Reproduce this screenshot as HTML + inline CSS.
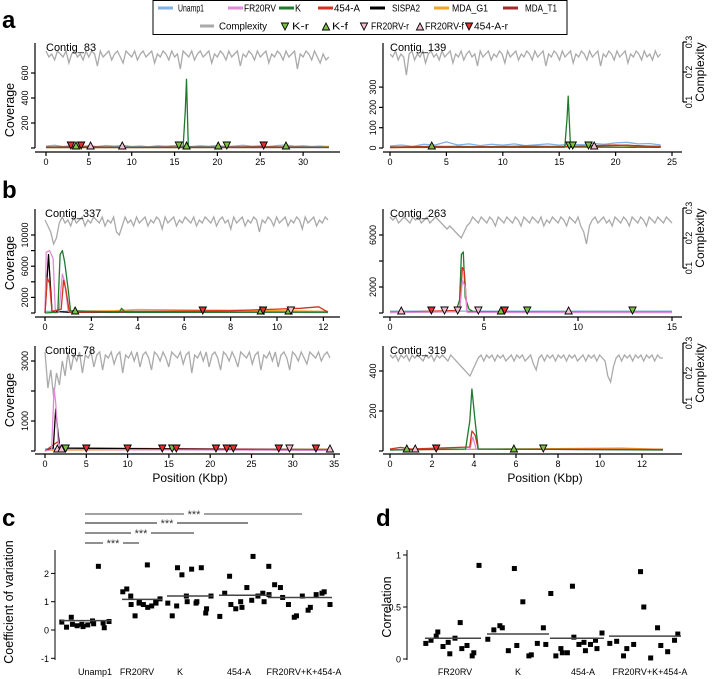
<!DOCTYPE html>
<html><head><meta charset="utf-8"><style>
html,body{margin:0;padding:0;background:#fff;}
svg{display:block;font-family:"Liberation Sans",sans-serif;}
</style></head><body>
<svg id="fig" width="712" height="679" viewBox="0 0 712 679" xmlns="http://www.w3.org/2000/svg"></svg>
<script>
// ---------- data: coverage ----------
const a1Unamp=[[0,15],[1,22],[2,12],[3,20],[4,14],[5,18],[6,12],[7,20],[8,15],[9,22],[10,12],[11,16],[12,10],[13,18],[14,14],[15,20],[16,16],[17,12],[18,18],[19,14],[20,20],[21,12],[22,16],[23,22],[24,14],[25,18],[26,12],[27,20],[28,24],[29,14],[30,18],[31,12],[32,16],[33,10]];
const a1K=[[0,5],[10,5],[16,6],[16.25,300],[16.4,550],[16.6,10],[17,5],[33,5]];
const a1A454=[[0,8],[5,10],[10,6],[15,9],[20,7],[25,10],[30,8],[33,6]];
const a1G1=[[0,3],[32,5],[33,15]];
const a1S2=[[0,4],[33,4]];
const a2Unamp=[[0,10],[1,15],[2,8],[3,18],[4,15],[5,30],[6,15],[7,20],[8,12],[9,18],[10,14],[11,20],[12,12],[13,16],[14,20],[15,14],[16,18],[17,16],[18,22],[19,18],[20,25],[21,28],[22,20],[23,22],[24,15]];
const a2K=[[0,3],[15.5,4],[15.7,150],[15.8,255],[16,5],[24,3]];
const a2A454=[[0,5],[4,8],[8,6],[12,9],[16,7],[18,12],[20,15],[22,10],[24,8]];
const a2T1=[[0,2],[6,8],[12,4],[18,10],[21,14],[24,6]];
const a2G1=[[0,2],[20,5],[24,8]];
const b1FR=[[0,0],[0.05,7800],[0.2,8000],[0.35,7000],[0.45,0],[0.6,100],[0.75,5000],[0.85,4000],[1,200],[12.2,50]];
const b1K=[[0,0],[0.55,100],[0.65,7500],[0.75,8000],[0.85,6500],[1,3000],[1.1,300],[3.2,100],[3.3,600],[3.45,100],[12.2,100]];
const b1A454=[[0,0],[0.1,4500],[0.2,3800],[0.3,200],[0.7,500],[0.8,4200],[0.9,3000],[1.05,100],[4,200],[8,300],[10,500],[11,600],[11.8,800],[12.2,100]];
const b1G1=[[1,200],[3,300],[4,450],[6,400],[8,350],[10,300],[12.2,200]];
const b1S2=[[0,0],[0.15,7500],[0.3,200],[1,100],[12.2,100]];
const b1Unamp=[[0,200],[4,250],[8,200],[12.2,200]];
const b2K=[[0,50],[3.5,100],[3.7,1000],[3.8,4500],[3.9,4700],[4,1200],[4.2,300],[4.5,50],[15,50]];
const b2A454=[[0,50],[3.7,200],[3.85,3500],[3.95,3200],[4.1,100],[15,50]];
const b2FR=[[0,30],[3.7,100],[3.85,2500],[4,2000],[4.1,50],[15,30]];
const b2Unamp=[[0,150],[15,150]];
const b3FR=[[0,0],[0.8,50],[1.1,2100],[1.3,1600],[1.6,300],[2,50],[34.5,20]];
const b3S2=[[0,0],[1,100],[1.3,1400],[1.5,800],[1.8,100],[34.5,20]];
const b3A454=[[0,0],[1.5,300],[2,100],[34.5,40]];
const b3G1=[[0,30],[34.5,60]];
const b3Unamp=[[0,70],[34.5,70]];
const b4K=[[0,5],[3.6,10],[3.8,150],[3.9,310],[4.05,150],[4.2,10],[13,5]];
const b4A454=[[0,10],[0.5,18],[1,10],[3.8,20],[3.9,100],[4.05,80],[4.2,10],[13,8]];
const b4FR=[[0,5],[3.8,10],[3.95,70],[4.1,10],[13,5]];
const b4G1=[[0,5],[6,10],[11,15],[13,8]];
const b4Unamp=[[0,8],[13,8]];
// ---------- data: complexity (evenly sampled along contig) ----------
const cxA1=[.27,.25,.26,.24,.27,.26,.25,.27,.23,.26,.27,.25,.26,.24,.27,.25,.27,.26,.22,.27,.25,.26,.27,.24,.26,.27,.25,.23,.27,.26,.25,.27,.24,.26,.27,.25,.26,.27,.23,.26,.25,.27,.26,.24,.27,.25,.26,.21,.27,.26,.25,.27,.24,.26,.27,.25,.26,.27,.23,.26,.25,.27,.26,.24,.27,.25,.26,.27,.22,.26,.25,.27,.26,.24,.27,.25,.26,.27,.23,.26,.25,.27,.26,.24,.27,.25,.26,.27,.21,.26,.25,.27,.26,.24,.27,.25,.23,.26,.24,.25];
const cxA2=[.26,.25,.27,.24,.26,.25,.19,.26,.27,.24,.26,.25,.27,.23,.26,.27,.25,.26,.24,.27,.25,.26,.27,.23,.26,.25,.27,.24,.26,.27,.25,.26,.22,.27,.25,.26,.27,.24,.26,.25,.27,.26,.23,.27,.25,.26,.27,.24,.26,.25,.27,.26,.24,.27,.25,.26,.27,.22,.26,.25,.27,.26,.24,.27,.25,.26,.27,.23,.26,.25,.27,.26,.24,.27,.25,.26,.27,.22,.26,.25,.27,.26,.24,.27,.25,.26,.27,.23,.26,.25,.27,.26,.24,.27,.25,.26,.24,.27,.25,.26];
const cxB1=[.26,.24,.22,.18,.2,.25,.27,.25,.26,.24,.27,.25,.26,.27,.24,.26,.25,.27,.26,.25,.27,.24,.26,.25,.27,.22,.21,.24,.27,.25,.26,.24,.27,.25,.26,.27,.24,.26,.25,.27,.26,.23,.27,.25,.26,.27,.24,.26,.25,.27,.26,.25,.27,.24,.26,.25,.27,.26,.25,.27,.24,.26,.27,.25,.26,.23,.27,.25,.26,.27,.24,.26,.25,.27,.26,.22,.26,.25,.27,.26,.24,.27,.25,.26,.27,.24,.26,.25,.27,.26,.23,.27,.25,.26,.27,.24,.26,.25,.27,.26];
const cxB2=[.27,.26,.27,.25,.26,.27,.26,.25,.27,.26,.27,.25,.26,.27,.25,.26,.27,.26,.25,.24,.23,.24,.23,.22,.21,.2,.22,.24,.25,.27,.26,.25,.27,.26,.25,.27,.26,.24,.27,.26,.25,.27,.26,.25,.27,.26,.24,.27,.26,.25,.27,.26,.25,.27,.24,.26,.25,.27,.26,.25,.27,.26,.24,.27,.26,.25,.27,.24,.22,.18,.24,.26,.27,.25,.26,.27,.25,.26,.24,.27,.26,.25,.27,.26,.24,.27,.26,.25,.27,.26,.24,.27,.26,.25,.27,.26,.25,.27,.26,.25];
const cxB3=[.27,.15,.21,.12,.2,.16,.24,.19,.27,.21,.26,.24,.27,.2,.26,.25,.27,.22,.26,.27,.21,.26,.25,.27,.23,.26,.27,.2,.26,.25,.27,.24,.27,.22,.26,.27,.25,.21,.27,.26,.24,.27,.25,.22,.27,.26,.25,.27,.23,.26,.27,.2,.26,.25,.27,.24,.27,.22,.26,.27,.25,.21,.27,.26,.24,.27,.25,.22,.27,.26,.25,.27,.23,.26,.27,.21,.26,.25,.27,.24,.27,.22,.26,.27,.25,.21,.27,.26,.24,.27,.25,.23,.27,.26,.25,.27,.24,.26,.27,.25];
const cxB4=[.26,.25,.26,.24,.26,.25,.26,.24,.26,.25,.26,.25,.24,.26,.25,.26,.24,.26,.25,.26,.25,.24,.26,.25,.24,.23,.22,.21,.2,.19,.21,.23,.25,.26,.24,.26,.25,.26,.24,.26,.25,.26,.24,.25,.26,.24,.26,.25,.26,.24,.25,.26,.23,.21,.25,.26,.24,.26,.25,.26,.24,.26,.25,.26,.24,.26,.25,.26,.24,.25,.26,.24,.26,.25,.26,.24,.26,.25,.24,.19,.17,.22,.25,.26,.24,.26,.25,.26,.24,.26,.25,.26,.24,.26,.25,.26,.24,.26,.25,.25];
// ---------- data: primer markers [position, type] ----------
const mkA1=[[2.9,"A-r"],[3.5,"K-f"],[4.1,"A-r"],[5.2,"FR-f"],[8.9,"FR-f"],[15.5,"K-r"],[16.4,"K-f"],[20.1,"K-f"],[21.1,"K-r"],[25.4,"A-r"],[28.0,"K-f"]];
const mkA2=[[3.7,"K-f"],[15.9,"K-r"],[16.2,"K-r"],[17.6,"K-r"],[18.1,"FR-f"]];
const mkB1=[[1.3,"K-f"],[6.8,"A-r"],[9.3,"K-f"],[9.4,"A-r"],[10.5,"K-f"],[10.6,"FR-r"]];
const mkB2=[[0.6,"FR-f"],[2.2,"A-r"],[2.9,"FR-r"],[3.6,"FR-r"],[4.7,"FR-r"],[5.9,"K-f"],[6.1,"A-r"],[7.3,"K-r"],[9.5,"FR-f"],[12.9,"K-r"]];
const mkB3=[[1.5,"FR-f"],[2.0,"FR-f"],[2.5,"K-r"],[5,"A-r"],[10,"A-r"],[14.2,"A-r"],[15.4,"K-r"],[15.9,"A-r"],[20.7,"A-r"],[22,"A-r"],[22.8,"A-r"],[28.3,"A-r"],[29.6,"FR-r"],[32.8,"A-r"],[34.5,"FR-f"]];
const mkB4=[[0.8,"K-f"],[1.2,"FR-f"],[2.2,"A-r"],[5.9,"K-f"],[7.3,"K-r"]];
// ---------- data: panel c / d ----------
const cCats=["Unamp1","FR20RV","K","454-A","FR20RV+K+454-A"];
const cUnamp=[0.28,0.1,0.45,0.2,0.15,0.2,0.12,0.18,0.32,0.22,2.25,0.25,0.08,0.3];
const cFR=[1.35,1.45,1.2,0.9,0.5,0.95,1.0,0.9,2.3,0.8,0.85,1.0,0.95,1.1];
const cK=[0.95,0.5,0.85,2.2,1.95,1.2,1.0,2.15,0.95,1.0,2.2,0.6,0.75,1.2];
const cA=[0.48,1.3,1.9,0.9,0.75,1.0,0.8,1.5,1.05,2.6,1.2,1.3,1.0,1.25];
const cAll=[2.25,1.6,1.5,1.15,0.9,0.45,0.5,1.2,0.7,0.8,1.25,1.3,1.35,0.9];
const cMeans=[0.33,1.08,1.2,1.23,1.15];
const cTicks=[-1,0,1,2];
const dCats=["FR20RV","K","454-A","FR20RV+K+454-A"];
const dFR=[0.15,0.18,0.22,0.26,0.12,0.16,0.05,0.2,0.35,0.1,0.13,0.03,0.06,0.9];
const dK=[0.19,0.28,0.32,0.3,0.08,0.87,0.13,0.55,0.03,0.04,0.15,0.3,0.14];
const dA=[0.63,0.03,0.1,0.06,0.06,0.7,0.21,0.14,0.16,0.08,0.14,0.18,0.1,0.25];
const dAll=[0.15,0.17,0.03,0.1,0.14,0.84,0.5,0.01,0.3,0.13,0.07,0.18,0.24];
const dMeans=[0.2,0.24,0.2,0.22];
const dTicks=[0,0.5,1];

// ---------- drawing ----------
const NS="http://www.w3.org/2000/svg";
const svg=document.getElementById('fig');
function el(tag,attrs,parent,text){const e=document.createElementNS(NS,tag);for(const k in attrs)e.setAttribute(k,attrs[k]);if(text!==undefined)e.textContent=text;(parent||svg).appendChild(e);return e;}
const COL={unamp:"#7fb2e5",fr:"#e08ad8",k:"#1f7a2c",a:"#d7301f",s2:"#000",g1:"#f5a623",t1:"#a52a2a",cx:"#aaaaaa"};
const MK={"K-r":["#7cc242",true],"K-f":["#7cc242",false],"FR-r":["#f4c0cf",true],"FR-f":["#f4c0cf",false],"A-r":["#e53030",true]};
function tri(g,x,y,type){const m=MK[type];const p=m[1]?`${x-3.6},${y-7} ${x+3.6},${y-7} ${x},${y}`:`${x-3.6},${y} ${x+3.6},${y} ${x},${y-7}`;
 const t=el('polygon',{points:p,fill:m[0],stroke:"#000","stroke-width":0.9},g);
 
 }

function panel(cfg){
 const g=el('g',{});
 
 
 const X=v=>cfg.x0+v*cfg.ppu, Y=v=>cfg.yZero-v*cfg.ypu;
 const CY=v=>cfg.cy0-(v-0.1)/0.2*(cfg.cy0-cfg.cy1);
 const n=cfg.cx.length;let d="";
 cfg.cx.forEach((v,i)=>{d+=(i?"L":"M")+X(i*cfg.len/(n-1)).toFixed(1)+","+CY(v).toFixed(1);});
 const cl=el('path',{d,fill:"none",stroke:COL.cx,"stroke-width":1.3},g);
 
 cfg.series.forEach(s=>{let p="";s[1].forEach((q,i)=>{p+=(i?"L":"M")+X(q[0]).toFixed(1)+","+Y(q[1]).toFixed(1);});
  const l=el('path',{d:p,fill:"none",stroke:COL[s[0]],"stroke-width":1.3,"stroke-linejoin":"round"},g);
  });
 cfg.mk.forEach(m=>tri(g,X(m[0]),cfg.yZero+1,m[1]));
 const ax=el('g',{stroke:"#000","stroke-width":1.2},g);
 
 el('line',{x1:cfg.ax0,x2:cfg.ax1,y1:cfg.axisY,y2:cfg.axisY},ax);
 for(let v=0;v<=cfg.xmax;v+=cfg.xstep){el('line',{x1:X(v),x2:X(v),y1:cfg.axisY,y2:cfg.axisY+4},ax);
  const t=el('text',{x:X(v),y:cfg.axisY+13,"font-size":9,"text-anchor":"middle",stroke:"none",fill:"#000"},g,String(v));
  }
 const ay=el('g',{stroke:"#000","stroke-width":1.2},g);
 
 el('line',{x1:cfg.yax,x2:cfg.yax,y1:cfg.ytop,y2:Y(0)},ay);
 cfg.yt.forEach(v=>{el('line',{x1:cfg.yax-4,x2:cfg.yax,y1:Y(v),y2:Y(v)},ay);
  if(cfg.yl.includes(v)){const tx=cfg.yax-7,ty=Y(v);const t=el('text',{x:tx,y:ty,"font-size":9,"text-anchor":"middle",transform:`rotate(-90 ${tx} ${ty})`,fill:"#000"},g,String(v));
   }});
 const ct=el('text',{x:cfg.x0,y:cfg.ytop+8,"font-size":11,fill:"#000"},g,cfg.title);
 
}
const rows={a:{cy0:102,cy1:42},b1:{cy0:268,cy1:208},b2:{cy0:403,cy1:343}};
panel({name:"contig-83-panel",title:"Contig_83",x0:46,ppu:8.57,yZero:148,ypu:0.125,axisY:152,ax0:35,ax1:340,xmax:30,xstep:5,len:33,yax:35,ytop:43,yt:[0,200,400,600],yl:[200,400,600],cx:cxA1,cy0:rows.a.cy0,cy1:rows.a.cy1,
 series:[["unamp",a1Unamp],["g1",a1G1],["s2",a1S2],["a",a1A454],["k",a1K]],mk:mkA1});
panel({name:"contig-139-panel",title:"Contig_139",x0:390,ppu:11.28,yZero:148,ypu:0.203,axisY:152,ax0:383,ax1:682,xmax:25,xstep:5,len:24,yax:383,ytop:43,yt:[0,100,200,300],yl:[0,100,200,300],cx:cxA2,cy0:rows.a.cy0,cy1:rows.a.cy1,
 series:[["unamp",a2Unamp],["g1",a2G1],["t1",a2T1],["a",a2A454],["k",a2K]],mk:mkA2});
panel({name:"contig-337-panel",title:"Contig_337",x0:45,ppu:23.2,yZero:313,ypu:0.0078,axisY:317,ax0:35,ax1:340,xmax:12,xstep:2,len:12.2,yax:35,ytop:209,yt:[0,2000,4000,6000,8000,10000],yl:[2000,6000,10000],cx:cxB1,cy0:rows.b1.cy0,cy1:rows.b1.cy1,
 series:[["unamp",b1Unamp],["g1",b1G1],["s2",b1S2],["fr",b1FR],["a",b1A454],["k",b1K]],mk:mkB1});
panel({name:"contig-263-panel",title:"Contig_263",x0:390,ppu:18.8,yZero:313,ypu:0.013,axisY:317,ax0:383,ax1:682,xmax:15,xstep:5,len:15,yax:383,ytop:209,yt:[0,2000,4000,6000],yl:[2000,6000],cx:cxB2,cy0:rows.b1.cy0,cy1:rows.b1.cy1,
 series:[["unamp",b2Unamp],["k",b2K],["a",b2A454],["fr",b2FR]],mk:mkB2});
panel({name:"contig-78-panel",title:"Contig_78",x0:45,ppu:8.26,yZero:451,ypu:0.03,axisY:454,ax0:35,ax1:340,xmax:35,xstep:5,len:34.5,yax:35,ytop:346,yt:[0,1000,2000,3000],yl:[1000,3000],cx:cxB3,cy0:rows.b2.cy0,cy1:rows.b2.cy1,
 series:[["unamp",b3Unamp],["g1",b3G1],["a",b3A454],["s2",b3S2],["fr",b3FR]],mk:mkB3});
panel({name:"contig-319-panel",title:"Contig_319",x0:390,ppu:21,yZero:451,ypu:0.2,axisY:454,ax0:383,ax1:682,xmax:12,xstep:2,len:13,yax:383,ytop:346,yt:[0,200,400],yl:[200,400],cx:cxB4,cy0:rows.b2.cy0,cy1:rows.b2.cy1,
 series:[["unamp",b4Unamp],["g1",b4G1],["fr",b4FR],["a",b4A454],["k",b4K]],mk:mkB4});

Object.keys(rows).forEach(k=>{const r=rows[k];const g=el('g',{});
 
 el('line',{x1:683,x2:683,y1:r.cy1,y2:r.cy0,stroke:"#000","stroke-width":1.2},g);
 [0.1,0.2,0.3].forEach(v=>{const y=r.cy0-(v-0.1)/0.2*(r.cy0-r.cy1);el('line',{x1:683,x2:687,y1:y,y2:y,stroke:"#000","stroke-width":1.2},g);
  el('text',{x:692,y:y,"font-size":9,"text-anchor":"middle",transform:`rotate(-90 692 ${y})`},g,String(v));});
 const cy=(r.cy0+r.cy1)/2;el('text',{x:704,y:cy,"font-size":12,"text-anchor":"middle",transform:`rotate(-90 704 ${cy})`},g,"Complexity");});
[[110],[263],[400]].forEach(r=>{const t=el('text',{x:14,y:r[0],"font-size":12.5,"text-anchor":"middle",transform:`rotate(-90 14 ${r[0]})`},svg,"Coverage");
 });
[[190],[545]].forEach(r=>{const t=el('text',{x:r[0],y:482,"font-size":12,"text-anchor":"middle"},svg,"Position (Kbp)");
 });
[["a",2,28],["b",2,198],["c",2,526],["d",376,526]].forEach(p=>{const t=el('text',{x:p[1],y:p[2],"font-size":24,"font-weight":"bold"},svg,p[0]);
 });

// legend
const lg=el('g',{});

el('rect',{x:153,y:0.5,width:414,height:34,fill:"#fff",stroke:"#000","stroke-width":1},lg);
[["unamp","Unamp1",158,178,26],["fr","FR20RV",228,244,32],["k","K",279,295,6],["a","454-A",318,334,26],["s2","SISPA2",370,392,28],["g1","MDA_G1",434,452,36],["t1","MDA_T1",503,525,32]].forEach(e=>{
 const g=el('g',{},lg);
 el('line',{x1:e[2],x2:e[2]+15,y1:8,y2:8,stroke:COL[e[0]],"stroke-width":3},g);
 el('text',{x:e[3],y:11.5,"font-size":10,textLength:e[4],lengthAdjust:"spacingAndGlyphs"},g,e[1]);});
{const g=el('g',{},lg);
 el('line',{x1:200,x2:214,y1:26,y2:26,stroke:COL.cx,"stroke-width":3},g);el('text',{x:219,y:29.5,"font-size":10,textLength:48,lengthAdjust:"spacingAndGlyphs"},g,"Complexity");}
[["K-r","K-r",285,292,17],["K-f","K-f",326,332,16],["FR-r","FR20RV-r",364,371,38],["FR-f","FR20RV-f",420,425,39],["A-r","454-A-r",469,474,34]].forEach(e=>{
 const g=el('g',{},lg);
 tri(g,e[2],30,e[0]);el('text',{x:e[3],y:29.5,"font-size":10,textLength:e[4],lengthAdjust:"spacingAndGlyphs"},g,e[1]);});

// ---------- dot panels ----------
function dotPanel(o){
 const g=el('g',{});
 const Y=v=>o.y0-v*o.ypu;
 el('line',{x1:o.ax,x2:o.ax,y1:550,y2:660,stroke:"#000","stroke-width":1},g);
 o.ticks.forEach(v=>{el('line',{x1:o.ax-4,x2:o.ax,y1:Y(v),y2:Y(v),stroke:"#000"},g);
  const t=el('text',{x:o.ax-6,y:Y(v)+3.5,"font-size":9,"text-anchor":"end"},g,String(v));
  });
 o.groups.forEach((vals,gi)=>{const c=o.centers[gi],w=o.widths[gi];
  vals.forEach((v,i)=>{const x=c-w/2+i*w/(vals.length-1)+((i%3)-1)*1.2;
   const r=el('rect',{x:x-2.5,y:Y(v)-2.5,width:5,height:5,fill:"#000"},g);
   });
  const m=el('line',{x1:c-w/2-2,x2:c+w/2+2,y1:Y(o.means[gi]),y2:Y(o.means[gi]),stroke:"#444","stroke-width":1.5},g);
  });
 o.cats.forEach((c,i)=>{const t=el('text',{x:o.lx[i],y:675,"font-size":9,"text-anchor":"middle"},g,c);
  });
 const ty=o.ty;const t=el('text',{x:o.tx,y:ty,"font-size":12.5,"text-anchor":"middle",transform:`rotate(-90 ${o.tx} ${ty})`},g,o.title);
 
}
dotPanel({name:"cv-panel",ax:55,y0:630,ypu:28.3,ticks:cTicks,groups:[cUnamp,cFR,cK,cA,cAll],means:cMeans,centers:[86,142,190,245,300],widths:[46,36,42,48,60],cats:cCats,lx:[95,137,180,239,304],title:"Coefficient of variation",tx:13,ty:602});
dotPanel({name:"correlation-panel",ax:407,y0:659,ypu:104,ticks:dTicks,groups:[dFR,dK,dA,dAll],means:dMeans,centers:[453,518,577,645],widths:[52,58,50,68],cats:dCats,lx:[455,518,583,650],title:"Correlation",tx:391,ty:607});
[[514,302,194,"#444",1],[523,248,167,"#888",2],[533,194,141,"#222",1],[543,139,113,"#222",1]].forEach(s=>{
 const g=el('g',{});
 el('line',{x1:85,x2:s[1],y1:s[0],y2:s[0],stroke:s[3],"stroke-width":s[4]},g);
 el('rect',{x:s[2]-10,y:s[0]-5,width:20,height:9,fill:"#fff"},g);
 el('text',{x:s[2],y:s[0]+4,"font-size":11,"text-anchor":"middle",fill:"#333"},g,"***");});
</script>
</body></html>
